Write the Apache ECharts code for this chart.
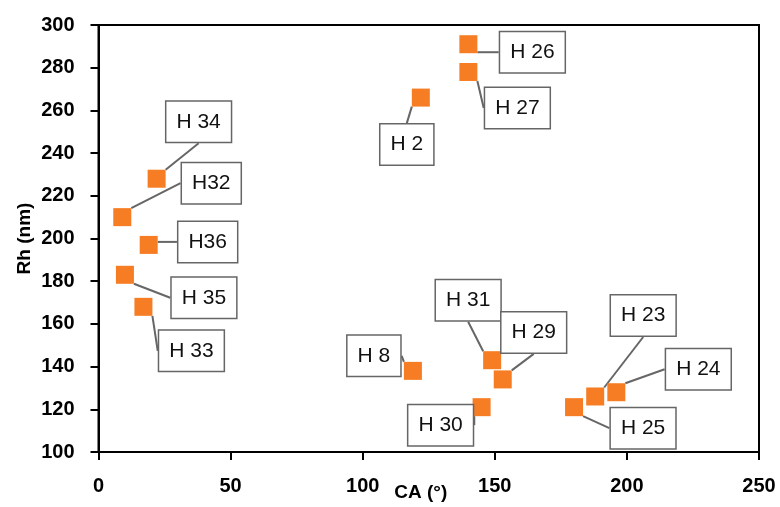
<!DOCTYPE html>
<html>
<head>
<meta charset="utf-8">
<script src="https://cdn.jsdelivr.net/npm/echarts@6/dist/echarts.min.js"></script>
<style>html,body{margin:0;padding:0;background:#fff}#c{width:780px;height:507px}</style>
</head>
<body>
<div id="c"></div>
<script>
var names = ['H 34','H32','H36','H 35','H 33','H 26','H 27','H 2','H 8','H 31','H 29','H 30','H 25','H 23','H 24'];
var caValues = [22, 9, 19, 10, 17, 140, 140, 122, 119, 149, 153, 145, 180, 188, 196];
var rhValues = [228, 210, 197, 183, 168, 291, 278, 266, 138, 143, 134, 121, 121, 126, 128];
var xTicks = [0, 50, 100, 150, 200, 250];
var yTicks = [100, 120, 140, 160, 180, 200, 220, 240, 260, 280, 300];
// callout offsets (pixels) of each label box centre from its point
var labelOffsets = [[42,-57],[89,-34],[59,-3],[79,23],[48,44],[64,8],[49,36],[-14,47],[-39,-15],[-24,-60],[31,-47],[-41,18],[69,21],[48,-81],[82,-23]];

var data = caValues.map(function (x, i) { return { value: [x, rhValues[i]], name: names[i] }; });

var chart = echarts.init(document.getElementById('c'), null, { renderer: 'canvas' });
var axisFont = { fontFamily: 'Liberation Sans', fontWeight: 'bold', fontSize: 20, color: '#000' };
chart.setOption({
  animation: false,
  grid: { left: 98.5, right: 21, top: 25, bottom: 55, outerBoundsMode: 'none', containLabel: false,
          show: true, borderColor: '#000', borderWidth: 2, backgroundColor: 'transparent' },
  xAxis: {
    type: 'value', min: xTicks[0], max: xTicks[xTicks.length - 1], interval: 50,
    name: 'CA (°)', nameLocation: 'middle', nameGap: 31, nameMoveOverlap: false,
    nameTextStyle: { fontFamily: 'Liberation Sans', fontWeight: 'bold', fontSize: 19, color: '#000', padding: [0, 16, 0, 0] },
    axisLine: { lineStyle: { color: '#000', width: 2 } },
    axisTick: { show: true, inside: false, length: 8, lineStyle: { color: '#000', width: 2 } },
    axisLabel: Object.assign({ margin: 24 }, axisFont),
    splitLine: { show: false }
  },
  yAxis: {
    type: 'value', min: yTicks[0], max: yTicks[yTicks.length - 1], interval: 20,
    name: 'Rh (nm)', nameLocation: 'middle', nameGap: 64, nameRotate: 90, nameMoveOverlap: false,
    nameTextStyle: { fontFamily: 'Liberation Sans', fontWeight: 'bold', fontSize: 19, color: '#000' },
    axisLine: { show: true, lineStyle: { color: '#000', width: 2 } },
    axisTick: { show: true, inside: false, length: 8, lineStyle: { color: '#000', width: 2 } },
    axisLabel: Object.assign({ margin: 24 }, axisFont),
    splitLine: { show: false }
  },
  series: [{
    type: 'scatter',
    data: data,
    symbol: 'rect',
    symbolSize: 18,
    itemStyle: { color: '#F67D23', opacity: 1 },
    label: {
      show: true, position: 'inside',
      formatter: function (p) { return p.name; },
      fontFamily: 'Liberation Sans', fontSize: 21, color: '#111',
      backgroundColor: '#fff', borderColor: '#666', borderWidth: 1.5,
      padding: [10, 10, 9, 10]
    },
    labelLine: { show: true, lineStyle: { color: '#666', width: 2 } },
    labelLayout: function (p) {
      var o = labelOffsets[p.dataIndex];
      return { dx: o[0], dy: o[1] };
    }
  }]
});
</script>
</body>
</html>
